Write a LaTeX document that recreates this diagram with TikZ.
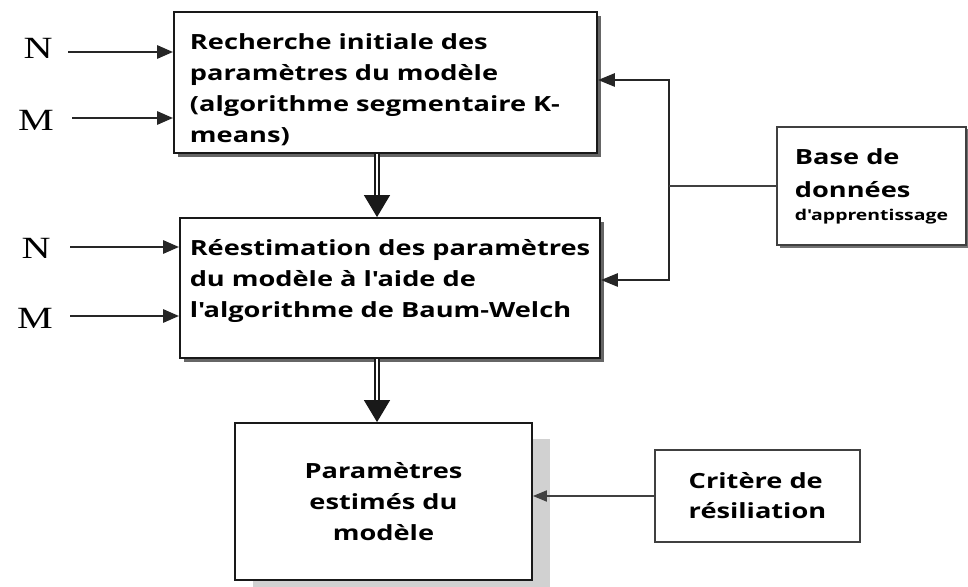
\documentclass[tikz,border=0pt]{standalone}
\usepackage{fontspec}
\setmainfont{Open Sans}[FakeStretch=1.3]
\newfontfamily\letterfont{Liberation Serif}[FakeStretch=1.3]
\usetikzlibrary{arrows.meta,shadows,calc}

% invisible rules that pad the first line upwards / the last line downwards
\newcommand\padtop[1]{\rule{0pt}{#1}}
\newcommand\padbot[1]{\rule[-#1]{0pt}{#1}}

\begin{document}
\begin{tikzpicture}[x=1bp,y=-1bp,
  box/.style={draw=black!90, line width=1.8bp, fill=white, inner sep=0pt,
    font=\bfseries\fontsize{21}{31}\selectfont},
  sidebox/.style={box, draw=black!75, line width=1.5bp},
  darkshadow/.style={drop shadow={shadow xshift=4bp, shadow yshift=-4bp,
    fill=black!60, opacity=1}},
  lightshadow/.style={drop shadow={shadow xshift=18bp, shadow yshift=-16bp,
    fill=black!18, opacity=1}},
  thinshadow/.style={drop shadow={shadow xshift=2.5bp, shadow yshift=-2.5bp,
    fill=black!55, opacity=1}},
  letter/.style={font=\letterfont\fontsize{31}{31}\selectfont, inner sep=0pt},
  inarrow/.style={draw=black!85, line width=2.8bp, -{Triangle[length=16bp,width=13bp]}},
  feed/.style={draw=black!85, line width=2.8bp, line join=miter,
    {Triangle[length=17bp,width=13bp]}-{Triangle[length=17bp,width=13bp]}},
  wire/.style={draw=black!75, line width=2bp},
  thinarrow/.style={draw=black!75, line width=1.8bp, -{Triangle[length=14bp,width=11bp]}},
  bigarrow/.style={draw=black!90, double, double distance=2.6bp, line width=1.5bp,
    -{Triangle[length=22bp,width=26bp]}}
]
\useasboundingbox (0,0) rectangle (968,587);
\fill[white] (0,0) rectangle (968,587);

% main processing chain
\node[box, darkshadow, minimum width=423bp, minimum height=141bp,
  text width=391bp, align=left]
  (b1) at (385.5,82.5)
  {\padtop{30bp}Recherche initiale des\\paramètres du modèle\\(algorithme segmentaire K-\\means)};
\node[box, darkshadow, minimum width=420bp, minimum height=140bp, align=left]
  (b2) at (390,288)
  {Réestimation des paramètres\\du modèle à l\textquotesingle aide de\\l\textquotesingle algorithme de Baum-Welch\padbot{19bp}};
\node[box, lightshadow, minimum width=297bp, minimum height=157bp, align=center]
  (b3) at (383.5,501.5)
  {Paramètres\\estimés du\\modèle};

% side inputs
\node[sidebox, thinshadow, minimum width=189bp, minimum height=118bp,
  align=left, font=\bfseries\fontsize{21}{33}\selectfont]
  (base) at (871.5,186)
  {Base de\\données\\[-10bp]\fontsize{15}{18}\selectfont d\textquotesingle apprentissage};
\node[sidebox, minimum width=205bp, minimum height=92bp, align=left,
  font=\bfseries\fontsize{21}{30}\selectfont]
  (crit) at (757.5,496)
  {Critère de\\résiliation};

% N and M inputs
\node[letter] (n1) at (38,48) {N};
\node[letter] (m1) at (36,120) {M};
\node[letter] (n2) at (36,248) {N};
\node[letter] (m2) at (35,318) {M};

\coordinate (n1s) at (68,52);
\coordinate (m1s) at (72,118);
\coordinate (n2s) at (70,247);
\coordinate (m2s) at (70,316);
\draw[inarrow] (n1s) -- (n1s -| b1.west);
\draw[inarrow] (m1s) -- (m1s -| b1.west);
\draw[inarrow] (n2s) -- (n2s -| b2.west);
\draw[inarrow] (m2s) -- (m2s -| b2.west);

% downward flow
\coordinate (ax) at (377,0);
\draw[bigarrow] (ax |- b1.south) -- (ax |- b2.north);
\draw[bigarrow] (ax |- b2.south) -- (ax |- b3.north);

% training data feedback
\coordinate (ft) at (669,80);
\coordinate (fb) at (669,280);
\draw[feed] (ft -| b1.east) -- (ft) -- (fb) -- (fb -| b2.east);
\draw[wire] (base.west) -- (base.west -| ft);

% stopping criterion
\draw[thinarrow] (crit.west) -- (crit.west -| b3.east);
\end{tikzpicture}
\end{document}
